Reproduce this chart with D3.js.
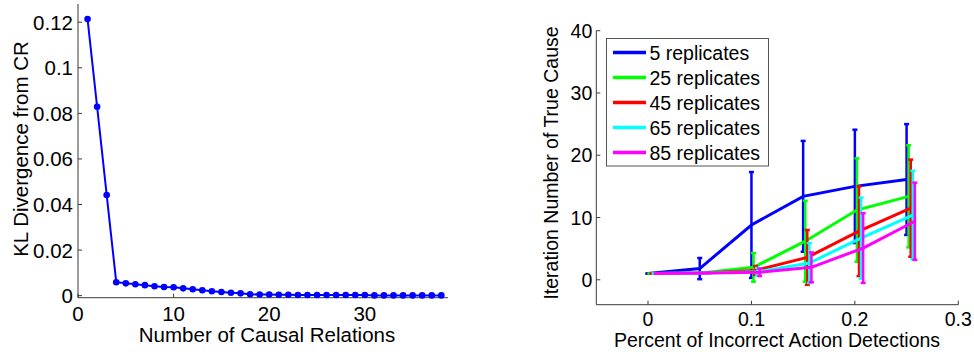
<!DOCTYPE html>
<html>
<head>
<meta charset="utf-8">
<script src="https://cdn.jsdelivr.net/npm/d3@7"></script>
<style>
  body { margin: 0; background: #fff; }
  svg text { font-family: "Liberation Sans", Arial, sans-serif; fill: #000; }
  .axis-line { stroke: #3a3a3a; stroke-width: 1; fill: none; }
</style>
</head>
<body>
<div id="chart"></div>
<script>
// left panel: KL divergence vs number of causal relations
const klRelations = d3.range(1, 39);
const klValues = [
  0.1214, 0.0829, 0.0442, 0.0059, 0.0054, 0.0050, 0.0046, 0.0041, 0.0038, 0.0037,
  0.0032, 0.0028, 0.0024, 0.0019, 0.0016, 0.0013, 0.0010, 0.0006, 0.0005, 0.0005,
  0.0004, 0.0004, 0.0003, 0.0003, 0.0003, 0.0003, 0.0003, 0.0003, 0.0003, 0.0003,
  0.0001, 0.0001, 0.0001, 0.0001, 0.0001, 0.0001, 0.0001, 0.0001
];
const klXTicks = [0, 10, 20, 30];
const klYTicks = [0, 0.02, 0.04, 0.06, 0.08, 0.1, 0.12];

// right panel: iteration number of true cause vs incorrect detections
const detectionRates = [0, 0.05, 0.1, 0.15, 0.2, 0.25];
const seriesNames = ['5 replicates', '25 replicates', '45 replicates', '65 replicates', '85 replicates'];
const seriesColors = ['#0000ff', '#00ff00', '#ff0000', '#00ffff', '#ff00ff'];
const iterMeans = [
  [1.0, 1.8, 8.8, 13.4, 15.0, 16.1],
  [1.0, 1.1, 2.0, 6.2, 11.2, 13.4],
  [1.0, 1.1, 1.5, 3.6, 7.8, 11.5],
  [1.0, 1.1, 1.3, 2.7, 6.7, 10.4],
  [1.0, 1.1, 1.2, 2.0, 5.1, 9.4]
];
const iterErrors = [
  [0, 1.7, 8.5, 8.9, 9.1, 8.9],
  [0, 0, 2.3, 6.5, 8.3, 8.2],
  [0, 0, 0.7, 4.4, 7.2, 7.8],
  [0, 0, 0.6, 3.2, 6.5, 7.1],
  [0, 0, 0.6, 2.4, 5.6, 6.2]
];
const iterXTicks = [0, 0.1, 0.2, 0.3];
const iterXTickLabels = ['0', '0.1', '0.2', '0.3'];
const iterYTicks = [0, 10, 20, 30, 40];
const seriesShift = 0.002;

const width = 974;
const height = 352;
const leftFont = '20.5px';
const rightFont = '19.5px';

const svg = d3.select('#chart')
  .append('svg')
  .attr('width', width)
  .attr('height', height);

// draws MATLAB-like axes: left + bottom lines, inward ticks
function drawAxes(g, x, y, xTicks, xLabels, yTicks, yFmt, tickLabelY, yLabelGap, fontSize) {
  const [x0, x1] = x.range();
  const [y0, y1] = y.range();
  g.append('line').attr('class', 'axis-line')
    .attr('x1', x0).attr('x2', x1).attr('y1', y0).attr('y2', y0);
  g.append('line').attr('class', 'axis-line')
    .attr('x1', x0).attr('x2', x0).attr('y1', y0).attr('y2', y1);

  xTicks.forEach((t, i) => {
    g.append('line').attr('class', 'axis-line')
      .attr('x1', x(t)).attr('x2', x(t)).attr('y1', y0).attr('y2', y0 - 4);
    g.append('text')
      .attr('x', x(t)).attr('y', tickLabelY)
      .attr('text-anchor', 'middle')
      .attr('dominant-baseline', 'central')
      .style('font-size', fontSize)
      .text(xLabels[i]);
  });

  yTicks.forEach((t) => {
    g.append('line').attr('class', 'axis-line')
      .attr('x1', x0).attr('x2', x0 + 4).attr('y1', y(t)).attr('y2', y(t));
    g.append('text')
      .attr('x', x0 - yLabelGap).attr('y', y(t))
      .attr('text-anchor', 'end')
      .attr('dominant-baseline', 'central')
      .style('font-size', fontSize)
      .text(yFmt(t));
  });
}

function axisTitle(g, text, cx, cy, rotate, fontSize) {
  g.append('text')
    .attr('transform', 'translate(' + [cx, cy] + ')' + (rotate ? ' rotate(-90)' : ''))
    .attr('text-anchor', 'middle')
    .attr('dominant-baseline', 'central')
    .style('font-size', fontSize)
    .text(text);
}

// ---------- left chart ----------
const xKl = d3.scaleLinear().domain([0, 38.7]).range([78, 448]);
const yKl = d3.scaleLinear().domain([-0.0009, 0.128]).range([297.7, 4]);
const gLeft = svg.append('g');

drawAxes(gLeft, xKl, yKl, klXTicks, klXTicks.map(String), klYTicks,
  (d) => d === 0 ? '0' : String(d), 313, 5, leftFont);
axisTitle(gLeft, 'KL Divergence from CR', 20, 149, true, leftFont);
axisTitle(gLeft, 'Number of Causal Relations', 267, 334, false, leftFont);

const klData = klRelations.map((r, i) => ({ x: r, y: klValues[i] }));
const klLine = d3.line().x((d) => xKl(d.x)).y((d) => yKl(d.y));

gLeft.append('path')
  .datum(klData)
  .attr('fill', 'none')
  .attr('stroke', '#0000ff')
  .attr('stroke-width', 2)
  .attr('d', klLine);

gLeft.selectAll('circle.kl')
  .data(klData)
  .enter()
  .append('circle')
  .attr('class', 'kl')
  .attr('cx', (d) => xKl(d.x))
  .attr('cy', (d) => yKl(d.y))
  .attr('r', 3.3)
  .attr('fill', '#0000ff');

// ---------- right chart ----------
const xIt = d3.scaleLinear().domain([-0.05, 0.3]).range([596.3, 958.3]);
const yIt = d3.scaleLinear().domain([-4, 40]).range([304.7, 30.7]);
const gRight = svg.append('g');

drawAxes(gRight, xIt, yIt, iterXTicks, iterXTickLabels, iterYTicks, String, 319, 4, rightFont);
axisTitle(gRight, 'Iteration Number of True Cause', 551, 163, true, rightFont);
axisTitle(gRight, 'Percent of Incorrect Action Detections', 777, 340, false, rightFont);

seriesNames.forEach((name, s) => {
  const pts = detectionRates.map((r, i) => ({
    x: r + s * seriesShift,
    m: iterMeans[s][i],
    e: iterErrors[s][i]
  }));
  const g = gRight.append('g');
  const line = d3.line().x((d) => xIt(d.x)).y((d) => yIt(d.m));
  g.append('path')
    .datum(pts)
    .attr('fill', 'none')
    .attr('stroke', seriesColors[s])
    .attr('stroke-width', 3)
    .attr('d', line);

  // error bars
  const bars = g.selectAll('g.bar').data(pts).enter().append('g');
  bars.append('line')
    .attr('x1', (d) => xIt(d.x)).attr('x2', (d) => xIt(d.x))
    .attr('y1', (d) => yIt(d.m - d.e)).attr('y2', (d) => yIt(d.m + d.e))
    .attr('stroke', seriesColors[s]).attr('stroke-width', 2.5);
  [-1, 1].forEach((sign) => {
    bars.append('line')
      .attr('x1', (d) => xIt(d.x) - 2.5).attr('x2', (d) => xIt(d.x) + 2.5)
      .attr('y1', (d) => yIt(d.m + sign * d.e)).attr('y2', (d) => yIt(d.m + sign * d.e))
      .attr('stroke', seriesColors[s]).attr('stroke-width', 2.5);
  });
});

// legend
const legend = gRight.append('g');
legend.append('rect')
  .attr('x', 606.5).attr('y', 38.5)
  .attr('width', 162).attr('height', 127.5)
  .attr('fill', '#fff')
  .attr('stroke', '#555')
  .attr('stroke-width', 1);

seriesNames.forEach((name, s) => {
  const ly = 52.5 + s * 25;
  legend.append('line')
    .attr('x1', 613).attr('x2', 646)
    .attr('y1', ly).attr('y2', ly)
    .attr('stroke', seriesColors[s])
    .attr('stroke-width', 3.5);
  legend.append('text')
    .attr('x', 649.5).attr('y', ly)
    .attr('dominant-baseline', 'central')
    .style('font-size', rightFont)
    .text(name);
});
</script>
</body>
</html>
